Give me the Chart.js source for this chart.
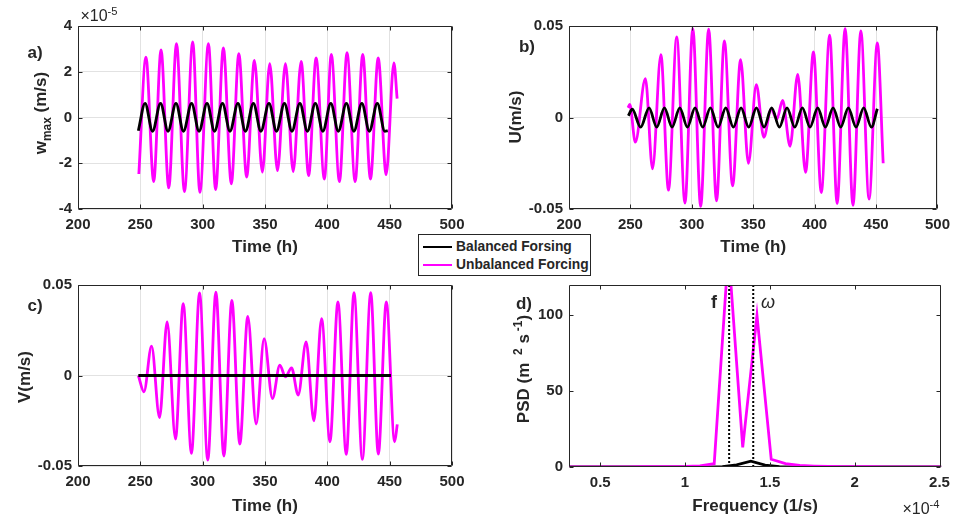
<!DOCTYPE html>
<html lang="en">
<head>
<meta charset="UTF-8">
<title>Balanced vs unbalanced forcing</title>
<script src="https://cdn.jsdelivr.net/npm/chart.js@4"></script>
<style>
  body { margin: 0; background: #fff; }
  #wrap { position: relative; width: 957px; height: 522px; overflow: hidden;
          font-family: "Liberation Sans", Arial, sans-serif; color: #262626; }
  canvas { position: absolute; }
  .txt { position: absolute; transform: translate(-50%, -50%); white-space: nowrap;
         font-weight: bold; font-size: 17px; line-height: 17px; }
  .ytitle { position: absolute; transform: translate(-50%, -50%) rotate(-90deg);
            white-space: nowrap; font-weight: bold; font-size: 17px; line-height: 17px; }
  .expo { position: absolute; transform: translate(-50%, -50%); white-space: nowrap;
          font-size: 16px; line-height: 16px; }
  sup, sub { font-size: 70%; vertical-align: 0; position: relative; }
  sup { top: -0.55em; }
  sub { top: 0.4em; }
  .gap { margin-left: 3px; }
  #legend { position: absolute; left: 418px; top: 234px; width: 173px; height: 42px;
            box-sizing: border-box; border: 1px solid #262626; background: #fff; z-index: 5; }
  #legend .row { position: absolute; left: 0; height: 18px; width: 100%; }
  #legend .sw { position: absolute; left: 4px; top: 8px; width: 29px; height: 2px; }
  #legend .lab { position: absolute; left: 37px; top: 0; line-height: 18px;
                 font-weight: bold; font-size: 13.8px; white-space: nowrap; }
</style>
</head>
<body>
<div id="wrap">
  <canvas id="pa" width="478" height="262" style="left:0;top:0"></canvas>
  <canvas id="pb" width="479" height="262" style="left:478px;top:0"></canvas>
  <canvas id="pc" width="478" height="260" style="left:0;top:262px"></canvas>
  <canvas id="pd" width="479" height="260" style="left:478px;top:262px"></canvas>

  <div class="txt" style="left:35px;top:52px">a)</div>
  <div class="txt" style="left:527px;top:46px">b)</div>
  <div class="txt" style="left:35px;top:305px">c)</div>
  <div class="txt" style="left:524px;top:303px">d)</div>

  <div class="ytitle" style="left:41px;top:113px">w<sub>max</sub> (m/s)</div>
  <div class="ytitle" style="left:515px;top:117px">U(m/s)</div>
  <div class="ytitle" style="left:24px;top:377px">V(m/s)</div>
  <div class="ytitle" style="left:524px;top:369px">PSD (m <sup class="gap">2</sup> s<sup class="gap">-1</sup>)</div>

  <div class="expo" style="left:99px;top:16px">×10<sup>-5</sup></div>
  <div class="expo" style="left:921px;top:509px">×10<sup>-4</sup></div>

  <div class="txt" style="left:714px;top:302px;font-size:18px">f</div>
  <div class="txt" style="left:768px;top:302px;font-size:18px;font-weight:normal;font-style:italic">ω</div>

  <div id="legend">
    <div class="row" style="top:3px"><span class="sw" style="background:#000"></span><span class="lab">Balanced Forsing</span></div>
    <div class="row" style="top:21px"><span class="sw" style="background:#ff00ff"></span><span class="lab">Unbalanced Forcing</span></div>
  </div>
</div>

<script>
// ---- data (extrema of each curve) ----

// a) w_max, in units of 1e-5 m/s
const tA_unb = [248.8, 254.5, 260.7, 266.6, 272.8, 279.0, 285.4, 292.0, 297.8, 304.6, 310.4, 316.6,
  323.0, 329.0, 335.3, 341.5, 347.9, 353.8, 360.0, 366.4, 372.6, 379.0, 385.0, 391.0, 397.6, 403.2,
  409.7, 415.8, 422.3, 428.4, 434.6, 440.8, 447.2, 453.4, 456.0];
const wA_unb = [-2.47, 2.64, -2.80, 2.96, -3.08, 3.23, -3.24, 3.30, -3.27, 3.23, -3.15, 3.04,
  -2.90, 2.79, -2.60, 2.50, -2.39, 2.35, -2.32, 2.35, -2.36, 2.45, -2.54, 2.60, -2.69, 2.76,
  -2.80, 2.83, -2.80, 2.76, -2.69, 2.60, -2.50, 2.39, 0.82];
const tA_bal = [248.4, 253.8, 259.8, 266.2, 272.2, 278.6, 284.6, 291.1, 297.1, 303.5, 309.5, 315.9,
  321.9, 328.3, 334.3, 340.7, 346.7, 353.2, 359.2, 365.6, 371.6, 378.0, 384.0, 390.4, 396.4, 402.8,
  408.8, 415.3, 421.3, 427.7, 433.7, 440.1, 446.1, 448.5];
const wA_bal = [-0.58, 0.62, -0.60, 0.62, -0.60, 0.62, -0.60, 0.62, -0.60, 0.62, -0.60, 0.62,
  -0.60, 0.62, -0.60, 0.62, -0.60, 0.62, -0.60, 0.62, -0.60, 0.62, -0.60, 0.62, -0.60, 0.62,
  -0.60, 0.62, -0.60, 0.62, -0.60, 0.62, -0.60, -0.58];

// b) U (m/s)
const tB_unb = [248.0, 249.5, 254.0, 262.2, 268.0, 274.8, 281.0, 287.7, 294.4, 300.8, 307.2, 313.7,
  320.1, 326.5, 333.2, 339.7, 346.1, 352.5, 358.6, 364.5, 369.3, 373.9, 380.0, 386.2, 392.6, 399.0,
  405.4, 412.2, 418.3, 424.8, 431.2, 437.6, 444.3, 451.0, 455.8];
const uB_unb = [0.0053, 0.0071, -0.0135, 0.0212, -0.0280, 0.0344, -0.0397, 0.0440, -0.0468, 0.0486,
  -0.0486, 0.0483, -0.0455, 0.0419, -0.0373, 0.0316, -0.0250, 0.0180, -0.0108, 0.0044, -0.0007,
  0.0093, -0.0157, 0.0236, -0.0300, 0.0358, -0.0410, 0.0450, -0.0470, 0.0486, -0.0480, 0.0473,
  -0.0446, 0.0408, -0.0250];
const tB_bal = [248.3, 251.5, 258.3, 265.2, 271.4, 277.7, 283.9, 290.2, 296.4, 302.6, 308.9, 315.1,
  321.4, 327.6, 333.8, 340.1, 346.3, 352.6, 358.8, 365.0, 371.3, 377.5, 383.8, 390.0, 396.2, 402.5,
  408.7, 415.0, 421.2, 427.4, 433.7, 439.9, 446.2, 451.0];
const uB_bal = [0.0010, 0.0045, -0.0053, 0.0053, -0.0053, 0.0053, -0.0053, 0.0053, -0.0053, 0.0053,
  -0.0053, 0.0053, -0.0053, 0.0053, -0.0053, 0.0053, -0.0053, 0.0053, -0.0053, 0.0053, -0.0053,
  0.0053, -0.0053, 0.0053, -0.0053, 0.0053, -0.0053, 0.0053, -0.0053, 0.0053, -0.0053, 0.0053,
  -0.0053, 0.0048];

// c) V (m/s)
const tC_unb = [248.4, 252.9, 259.0, 265.4, 271.5, 278.2, 284.4, 291.0, 297.5, 304.1, 310.6, 317.0,
  323.4, 329.8, 336.2, 342.9, 349.3, 356.0, 361.9, 366.4, 371.3, 376.6, 383.0, 389.2, 395.4, 402.1,
  408.5, 415.2, 421.4, 428.1, 434.8, 440.9, 447.3, 454.0, 456.1];
const vC_unb = [0, -0.0090, 0.0162, -0.0232, 0.0296, -0.0351, 0.0397, -0.0430, 0.0456, -0.0467,
  0.0461, -0.0445, 0.0415, -0.0379, 0.0327, -0.0268, 0.0204, -0.0127, 0.0057, -0.0007, 0.0042,
  -0.0108, 0.0186, -0.0250, 0.0314, -0.0366, 0.0406, -0.0436, 0.0458, -0.0463, 0.0458, -0.0434,
  0.0406, -0.0366, -0.0270];
const tC_bal = [248.4, 451.0];
const vC_bal = [0, 0];

// d) PSD, frequency in units of 1e-4 1/s
const fD_unb = [0.248, 0.332, 0.416, 0.500, 0.584, 0.668, 0.752, 0.836, 0.920, 1.004, 1.088, 1.172,
  1.256, 1.340, 1.424, 1.508, 1.592, 1.676, 1.760, 1.844, 1.928, 2.012, 2.096, 2.180, 2.264, 2.348,
  2.432, 2.516];
const pD_unb = [0.1, 0.1, 0.1, 0.1, 0.1, 0.1, 0.2, 0.2, 0.3, 0.4, 0.8, 2.2,
  143, 13, 100, 5.1, 2.2, 1.0, 0.6, 0.4, 0.3, 0.2, 0.2, 0.1, 0.1, 0.1,
  0.1, 0.1];
const fD_bal = [0.296, 0.380, 0.464, 0.548, 0.632, 0.716, 0.800, 0.884, 0.968, 1.052, 1.136, 1.220,
  1.304, 1.388, 1.472, 1.556, 1.640, 1.724, 1.808, 1.892, 1.976, 2.060, 2.144, 2.228, 2.312, 2.396,
  2.480, 2.564];
const pD_bal = [0, 0, 0, 0, 0, 0, 0, 0, 0, 0, 0.05, 0.3,
  1.4, 3.8, 1.3, 0.3, 0.1, 0, 0, 0, 0, 0, 0, 0, 0, 0,
  0, 0];
const fInertial = 1.26;   // f
const fTide = 1.402;      // omega

// tick labels
const timeTicks = [200, 250, 300, 350, 400, 450, 500];
const wTicks = [-4, -2, 0, 2, 4];
const velTicks = [-0.05, 0, 0.05];
const freqTicks = [0.5, 1, 1.5, 2, 2.5];
const psdTicks = [0, 50, 100];

// ---- drawing ----
const ink = '#262626';
const magenta = '#ff00ff';
const FONT = "'Liberation Sans', Arial, sans-serif";
const tickFont = { family: FONT, size: 15, weight: 'bold' };
const titleFont = { family: FONT, size: 17, weight: 'bold' };

const pts = (xs, ys) => xs.map((x, i) => ({ x: x, y: ys[i] }));

// matlab style box with inward ticks on all four sides
const frame = {
  id: 'frame',
  afterDraw(chart) {
    const { ctx, chartArea: a, scales } = chart;
    const L = Math.round(a.left) + 0.5, R = Math.round(a.right) - 0.5;
    const T = Math.round(a.top) + 0.5, B = Math.round(a.bottom) - 0.5;
    ctx.save();
    ctx.strokeStyle = ink;
    ctx.lineWidth = 1;
    ctx.beginPath();
    scales.x.ticks.forEach(t => {
      const p = Math.round(scales.x.getPixelForValue(t.value)) + 0.5;
      ctx.moveTo(p, B); ctx.lineTo(p, B - 4);
      ctx.moveTo(p, T); ctx.lineTo(p, T + 4);
    });
    scales.y.ticks.forEach(t => {
      const p = Math.round(scales.y.getPixelForValue(t.value)) + 0.5;
      ctx.moveTo(L, p); ctx.lineTo(L + 4, p);
      ctx.moveTo(R, p); ctx.lineTo(R - 4, p);
    });
    ctx.rect(L, T, R - L, B - T);
    ctx.stroke();
    ctx.restore();
  }
};

function line(data, color, extra) {
  return Object.assign({
    data: data, borderColor: color, borderWidth: 2.8, fill: false,
    pointRadius: 0, cubicInterpolationMode: 'monotone'
  }, extra || {});
}

function panel(id, datasets, o) {
  return new Chart(document.getElementById(id), {
    type: 'line',
    data: { datasets: datasets },
    options: {
      responsive: false,
      animation: false,
      events: [],
      layout: { padding: o.pad },
      plugins: { legend: { display: false }, tooltip: { enabled: false } },
      scales: {
        x: {
          type: 'linear', min: o.xMin, max: o.xMax,
          afterBuildTicks: s => { s.ticks = o.xTicks.map(v => ({ value: v })); },
          afterFit: s => { s.height = o.xH; },
          grid: { display: o.grid, color: '#e2e2e2', drawTicks: false },
          border: { display: false },
          ticks: { padding: 7, color: ink, font: tickFont, maxRotation: 0, callback: v => String(v) },
          title: { display: true, text: o.xTitle, color: ink, font: titleFont,
                   padding: { top: 0, bottom: o.titlePad } }
        },
        y: {
          type: 'linear', min: o.yMin, max: o.yMax,
          afterBuildTicks: s => { s.ticks = o.yTicks.map(v => ({ value: v })); },
          afterFit: s => { s.width = o.yW; },
          grid: { display: o.grid, color: '#e2e2e2', drawTicks: false },
          border: { display: false },
          ticks: { padding: 6, color: ink, font: tickFont, callback: v => String(v) }
        }
      }
    },
    plugins: [frame]
  });
}

panel('pa', [
  line(pts(tA_bal, wA_bal), '#000'),
  line(pts(tA_unb, wA_unb), magenta)
], { pad: { left: 0, top: 26, right: 26, bottom: 0 }, yW: 78, xH: 53, titlePad: 4,
     xMin: 200, xMax: 500, xTicks: timeTicks, yMin: -4, yMax: 4, yTicks: wTicks,
     xTitle: 'Time (h)', grid: true });

panel('pb', [
  line(pts(tB_bal, uB_bal), '#000'),
  line(pts(tB_unb, uB_unb), magenta)
], { pad: { left: 0, top: 26, right: 15, bottom: 0 }, yW: 91, xH: 53, titlePad: 4,
     xMin: 200, xMax: 500, xTicks: timeTicks, yMin: -0.05, yMax: 0.05, yTicks: velTicks,
     xTitle: 'Time (h)', grid: true });

panel('pc', [
  line(pts(tC_bal, vC_bal), '#000'),
  line(pts(tC_unb, vC_unb), magenta)
], { pad: { left: 0, top: 23, right: 26, bottom: 0 }, yW: 78, xH: 56, titlePad: 5,
     xMin: 200, xMax: 500, xTicks: timeTicks, yMin: -0.05, yMax: 0.05, yTicks: velTicks,
     xTitle: 'Time (h)', grid: true });

panel('pd', [
  line([{ x: fInertial, y: 0 }, { x: fInertial, y: 120 }], '#000',
       { borderWidth: 2, borderDash: [2, 2], cubicInterpolationMode: 'default' }),
  line([{ x: fTide, y: 0 }, { x: fTide, y: 120 }], '#000',
       { borderWidth: 2, borderDash: [2, 2], cubicInterpolationMode: 'default' }),
  line(pts(fD_unb, pD_unb), magenta, { cubicInterpolationMode: 'default' }),
  line(pts(fD_bal, pD_bal), '#000', { cubicInterpolationMode: 'default' })
], { pad: { left: 0, top: 23, right: 15, bottom: 0 }, yW: 91, xH: 55, titlePad: 5,
     xMin: 0.316, xMax: 2.51, xTicks: freqTicks, yMin: 0, yMax: 120, yTicks: psdTicks,
     xTitle: 'Frequency (1/s)', grid: false });
</script>
</body>
</html>
